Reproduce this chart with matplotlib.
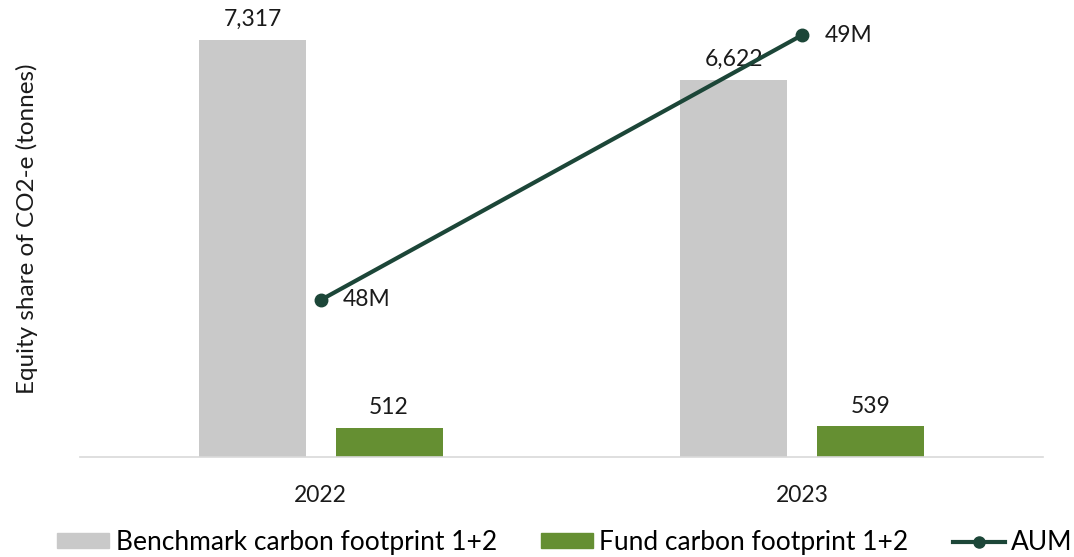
import matplotlib
matplotlib.use("Agg")
import matplotlib.pyplot as plt
from matplotlib.lines import Line2D
from matplotlib.patches import Patch
import numpy as np

years = ["2022", "2023"]
benchmark = [7317, 6622]
fund = [512, 539]
aum = [48, 49]
aum_labels = ["48M", "49M"]

plt.rcParams['font.family'] = ['Lato', 'DejaVu Sans']

C_BENCH = "#C9C9C9"
C_FUND = "#658F32"
C_LINE = "#1C4638"

W, H = 1074, 557
fig = plt.figure(figsize=(W / 100, H / 100), dpi=100)
ax = fig.add_axes([80 / W, 1 - 457 / H, (1043 - 80) / W, (457 - 1) / H])

x = np.arange(len(years))
bw = 0.222
off = 0.142
b1 = ax.bar(x - off, benchmark, bw, color=C_BENCH, label="Benchmark carbon footprint 1+2")
b2 = ax.bar(x + off, fund, bw, color=C_FUND, label="Fund carbon footprint 1+2")
for rects, vals in ((b1, benchmark), (b2, fund)):
    for r, v in zip(rects, vals):
        ax.annotate(f"{v:,}", (r.get_x() + r.get_width() / 2, v), xytext=(0, 7),
                    textcoords="offset points", ha="center", va="bottom", fontsize=16.5,
                    color="#1a1a1a")

ax.set_xlim(-0.5, 1.5)
ax.set_ylim(0, 8000)
ax.set_xticks(x)
ax.set_xticklabels(years, fontsize=16.5, color="#1a1a1a")
ax.tick_params(axis="x", length=0, pad=20)
ax.set_yticks([])
for s in ("top", "right", "left"):
    ax.spines[s].set_visible(False)
ax.spines["bottom"].set_color("#D9D9D9")
ax.spines["bottom"].set_linewidth(1.2)
ax.set_ylabel("Equity share of CO2-e (tonnes)", fontsize=17.5, color="#1a1a1a", labelpad=30)

ax2 = ax.twinx()
ax2.plot(x, aum, color=C_LINE, lw=3, marker="o", ms=9, label="AUM")
for xi, v, lab in zip(x, aum, aum_labels):
    ax2.annotate(lab, (xi, v), xytext=(16, 0), textcoords="offset points",
                 ha="left", va="center", fontsize=16.5, color="#1a1a1a")
ax2.set_ylim(48 - (457 - 300) / 265, 48 + (300 - 1) / 265)
ax2.set_yticks([])
for s in ax2.spines.values():
    s.set_visible(False)

handles = [Patch(color=C_BENCH), Patch(color=C_FUND),
           Line2D([0], [0], color=C_LINE, lw=3, marker="o", ms=8)]
labels = ["Benchmark carbon footprint 1+2", "Fund carbon footprint 1+2", "AUM"]
fig.legend(handles, labels, loc="lower center", bbox_to_anchor=(0.526, -0.039), ncol=3,
           frameon=False, fontsize=19, handlelength=1.97, handleheight=0.45,
           handletextpad=0.25, columnspacing=1.67)

fig.savefig("out.png", dpi=100)
